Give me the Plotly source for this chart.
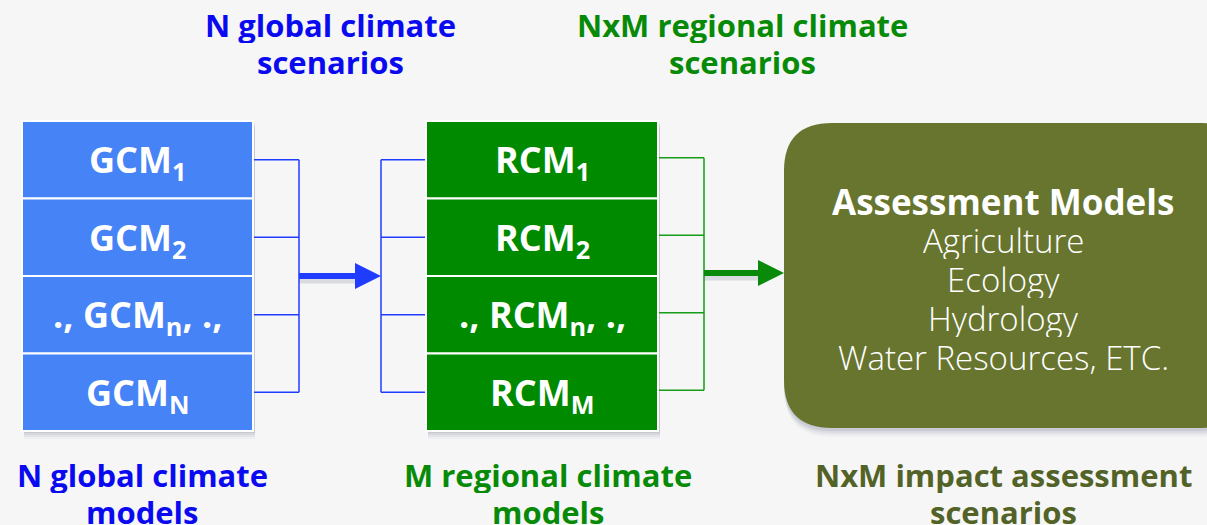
import plotly.graph_objects as go

# ---- diagram content ----
gcm_labels = ["GCM<sub>1</sub>", "GCM<sub>2</sub>", "., GCM<sub>n</sub>, .,", "GCM<sub>N</sub>"]
rcm_labels = ["RCM<sub>1</sub>", "RCM<sub>2</sub>", "., RCM<sub>n</sub>, .,", "RCM<sub>M</sub>"]
assess_title = "Assessment Models"
assess_lines = ["Agriculture", "Ecology", "Hydrology", "Water Resources, ETC."]
top_labels = [["N global climate", "scenarios"], ["NxM regional climate", "scenarios"]]
bottom_labels = [["N global climate", "models"], ["M regional climate", "models"],
                 ["NxM impact assessment", "scenarios"]]

BLUE_BOX = "#4683f7"
GREEN_BOX = "#008a00"
OLIVE = "#67752f"
BLUE_TXT = "#0a0af0"
GREEN_TXT = "#078a07"
OLIVE_TXT = "#536328"
BLUE_LINE = "#1f3cff"
GREEN_LINE = "#169c16"
FONT = "Open Sans"

W, H = 1207, 525
fig = go.Figure()


def shadow(fig, x0, y0, x1, y1):
    for i, op in enumerate([0.10, 0.08, 0.06, 0.04]):
        d = 2 + i * 2
        fig.add_shape(type="rect", x0=x0 + 2, x1=x1 + 2, y0=y0 + d, y1=y1 + d,
                      fillcolor="rgba(60,70,100,%s)" % op, line_width=0, layer="below")


def draw_stack(fig, labels, x0, x1, y0, row_h, color):
    shadow(fig, x0, y0, x1, y0 + row_h * len(labels))
    for i, lab in enumerate(labels):
        top = y0 + i * row_h
        fig.add_shape(type="rect", x0=x0, x1=x1, y0=top, y1=top + row_h,
                      fillcolor=color, line=dict(color="white", width=2))
        fig.add_annotation(x=(x0 + x1) / 2, y=top + row_h / 2 + 2, text="<b>%s</b>" % lab,
                           showarrow=False, font=dict(family=FONT, size=36, color="white"))


def bracket(fig, x_box, x_bar, ys, color):
    for y in ys:
        fig.add_trace(go.Scatter(x=[x_box, x_bar], y=[y, y], mode="lines",
                                 line=dict(color=color, width=1.5), hoverinfo="skip"))
    fig.add_trace(go.Scatter(x=[x_bar, x_bar], y=[ys[0], ys[-1]], mode="lines",
                             line=dict(color=color, width=1.5), hoverinfo="skip"))


def arrow(fig, x0, x1, y, color):
    head = 26
    fig.add_shape(type="line", x0=x0, x1=x1 - head + 2, y0=y + 4, y1=y + 4,
                  line=dict(color="rgba(60,70,100,0.15)", width=7))
    fig.add_shape(type="line", x0=x0, x1=x1 - head + 2, y0=y, y1=y,
                  line=dict(color=color, width=6))
    fig.add_shape(type="path",
                  path="M %s %s L %s %s L %s %s Z" % (x1 - head, y - 13, x1, y, x1 - head, y + 13),
                  fillcolor=color, line_width=0)


def rounded(x0, x1, y0, y1, r):
    return ("M %s %s L %s %s Q %s %s %s %s L %s %s Q %s %s %s %s "
            "L %s %s Q %s %s %s %s L %s %s Q %s %s %s %s Z") % (
        x0 + r, y0, x1 - r, y0, x1, y0, x1, y0 + r,
        x1, y1 - r, x1, y1, x1 - r, y1,
        x0 + r, y1, x0, y1, x0, y1 - r,
        x0, y0 + r, x0, y0, x0 + r, y0)


def caption(fig, x, y, lines, color):
    for j, t in enumerate(lines):
        fig.add_annotation(x=x, y=y + j * 37, text="<b>%s</b>" % t, showarrow=False,
                           height=36, valign="middle",
                           font=dict(family=FONT, size=31, color=color))


row_h = 77.5
stack_top = 121
gcm_x = (22, 253)
rcm_x = (426, 658)
rows_y = [stack_top + row_h * (i + 0.5) for i in range(4)]

draw_stack(fig, gcm_labels, gcm_x[0], gcm_x[1], stack_top, row_h, BLUE_BOX)
draw_stack(fig, rcm_labels, rcm_x[0], rcm_x[1], stack_top, row_h, GREEN_BOX)

bracket(fig, gcm_x[1], 299, rows_y, BLUE_LINE)
bracket(fig, rcm_x[0], 381, rows_y, BLUE_LINE)
bracket(fig, rcm_x[1], 704, [y - 2 for y in rows_y], GREEN_LINE)
arrow(fig, 299, 381, 276, BLUE_LINE)
arrow(fig, 704, 784, 273, "#0a8a0a")

# assessment box (rounded)
bx0, bx1, by0, by1, r = 784, 1250, 123, 428, 48
for i, op in enumerate([0.10, 0.07, 0.05, 0.03]):
    d = 3 + i * 2
    fig.add_shape(type="path", fillcolor="rgba(60,70,110,%s)" % op, line_width=0,
                  path=rounded(bx0, bx1, by0 + d, by1 + d, r))
fig.add_shape(type="path", fillcolor=OLIVE, line_width=0, path=rounded(bx0, bx1, by0, by1, r))

cx = 1003
fig.add_annotation(x=cx, y=201, text="<b>%s</b>" % assess_title, showarrow=False,
                   height=38, valign="middle",
                   font=dict(family=FONT, size=35, color="white"))
for i, line in enumerate(assess_lines):
    fig.add_annotation(x=cx, y=240 + i * 39, text=line, showarrow=False,
                       height=38, valign="middle",
                       font=dict(family=FONT, size=33, color="white", weight=300))

# captions
for x, lab, col in zip([330, 742], top_labels, [BLUE_TXT, GREEN_TXT]):
    caption(fig, x, 25, lab, col)
for x, lab, col in zip([142, 548, 1003], bottom_labels, [BLUE_TXT, GREEN_TXT, OLIVE_TXT]):
    caption(fig, x, 475, lab, col)

fig.update_layout(
    width=W, height=H,
    margin=dict(l=0, r=0, t=0, b=0),
    paper_bgcolor="#f6f6f6", plot_bgcolor="#f6f6f6",
    showlegend=False,
    xaxis=dict(range=[0, W], visible=False, fixedrange=True),
    yaxis=dict(range=[H, 0], visible=False, fixedrange=True),
)
fig.write_html("out.html", config={"displayModeBar": False},
               post_script="document.body.style.margin='0';")
